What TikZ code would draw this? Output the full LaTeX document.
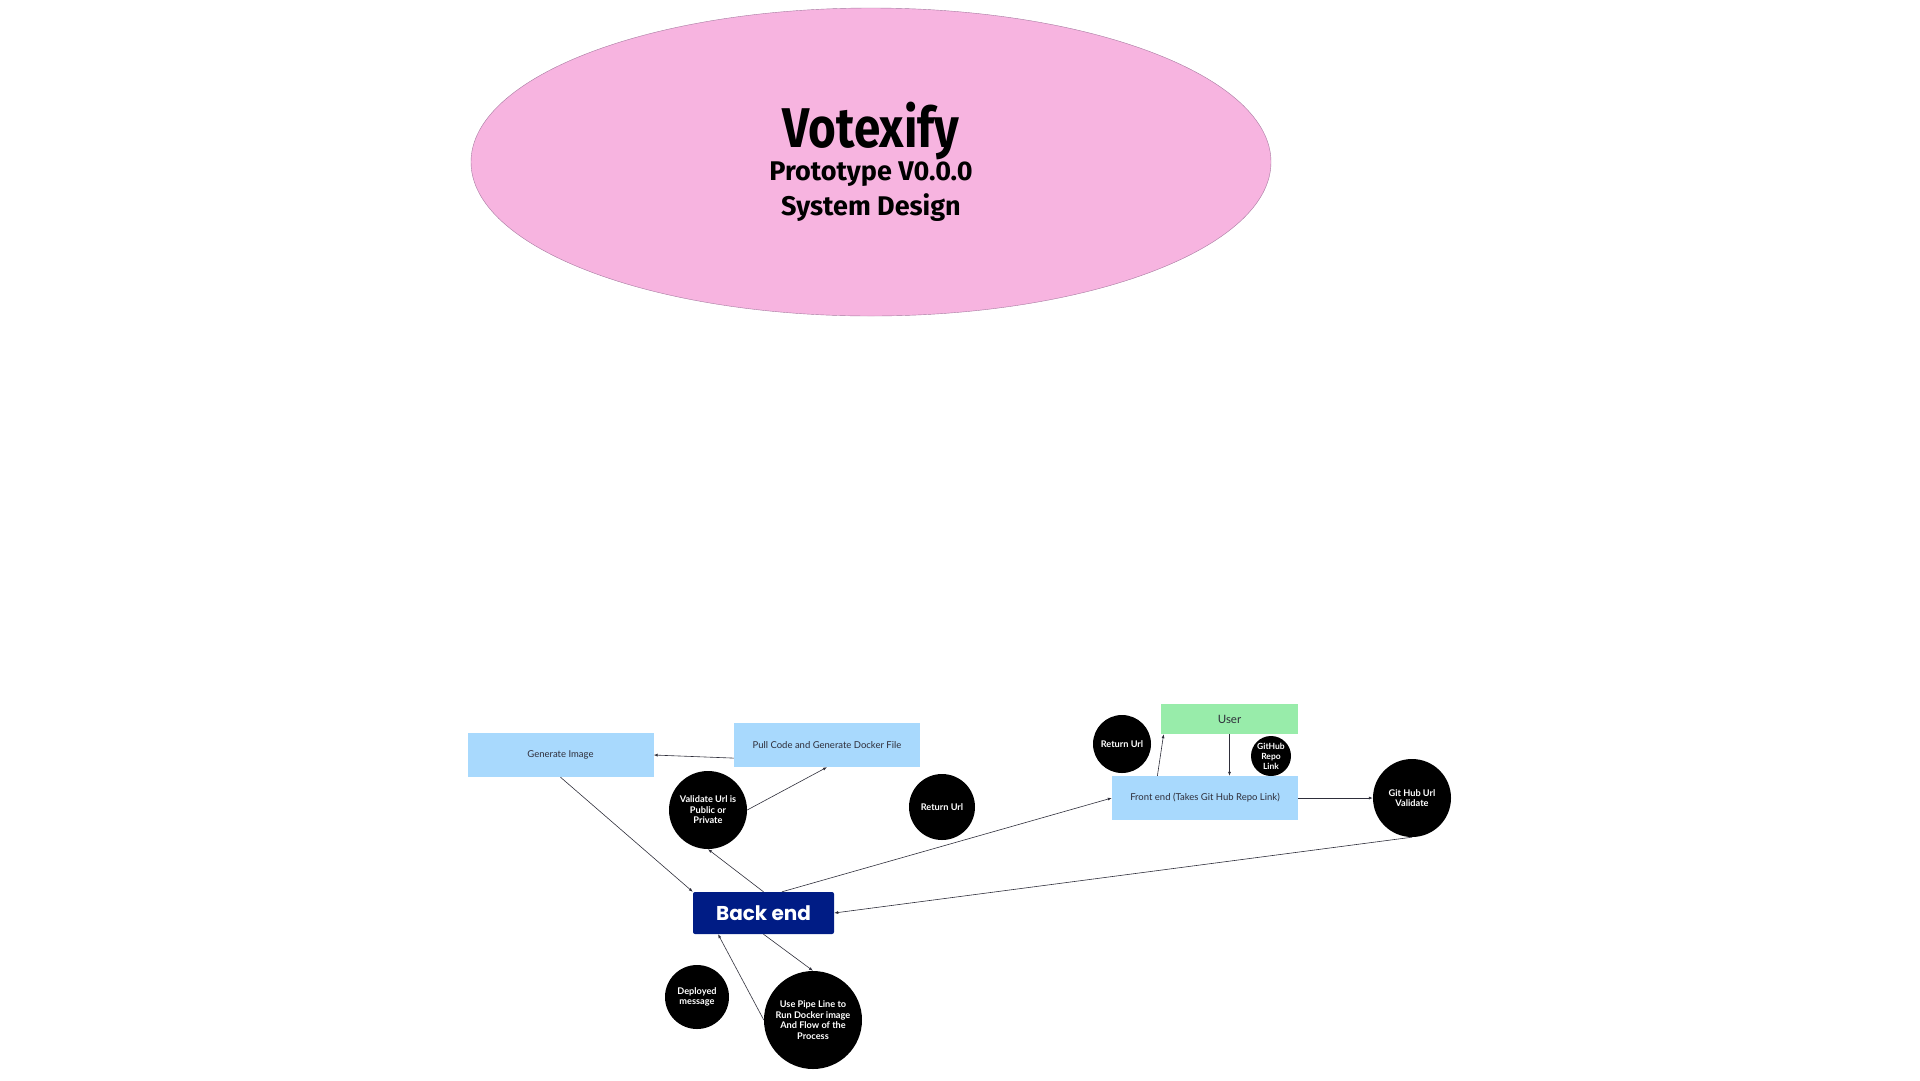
\documentclass[tikz,border=0pt]{standalone}
\usepackage{fontspec}
\setmainfont{Lato}
\newfontfamily\titlefont[FakeStretch=0.85]{Fira Sans}
\newfontfamily\subtitlefont{Fira Sans}
\newfontfamily\backfont{Poppins}
\usepackage{tikz}
\usetikzlibrary{arrows.meta,shapes.geometric}
\definecolor{pinkish}{HTML}{F7B4E0}
\definecolor{pinkline}{HTML}{A77AA0}
\definecolor{skyblue}{HTML}{A8D9FD}
\definecolor{mint}{HTML}{98ECAA}
\definecolor{navy}{HTML}{001C85}
\definecolor{inkgray}{HTML}{2E2E3A}

\begin{document}
\begin{tikzpicture}[x=1pt, y=-1pt,
    stepbox/.style={fill=skyblue, minimum width=186pt, minimum height=44pt, inner sep=0pt, text=inkgray, font=\fontsize{9.5}{11}\selectfont},
    bubble/.style={circle, fill=black, inner sep=0pt, align=center, text=white, font=\bfseries\fontsize{9.2}{10.5}\selectfont},
    arrowline/.style={-{Latex[length=4pt, width=3pt]}, line width=0.6pt, inkgray}]
  \useasboundingbox (0,0) rectangle (1920,1080);

  % title
  \node[ellipse, draw=pinkline, line width=0.4pt, fill=pinkish, minimum width=800pt, minimum height=308pt, align=center] (title) at (871,162)
    {{\titlefont\bfseries\fontsize{56}{60}\selectfont Votexify}\\[1pt]
     {\subtitlefont\bfseries\fontsize{27}{33}\selectfont Prototype V0.0.0}\\[6pt]
     {\subtitlefont\bfseries\fontsize{27}{33}\selectfont System Design}};

  % boxes
  \node[stepbox] (gen) at (560.5,755) {Generate Image};
  \node[stepbox] (pull) at (827,745) {Pull Code and Generate Docker File};
  \node[stepbox] (front) at (1205,798) {Front end (Takes Git Hub Repo Link)};
  \node[stepbox, fill=mint, minimum width=137pt, minimum height=30pt, font=\fontsize{11.5}{13}\selectfont] (user) at (1229.5,719) {User};
  \node[fill=navy, rounded corners=2pt, minimum width=141pt, minimum height=42pt, inner sep=0pt, text=white, font=\backfont\bfseries\fontsize{20}{24}\selectfont] (back) at (763.5,913) {Back end};

  % circles
  \node[bubble, minimum size=78pt] (validate) at (708,810) {Validate Url is\\Public or\\Private};
  \node[bubble, minimum size=66pt] (retmid) at (942,807) {Return Url};
  \node[bubble, minimum size=64pt] (deployed) at (697,997) {Deployed\\message};
  \node[bubble, minimum size=98pt] (pipeline) at (813,1020) {Use Pipe Line to\\Run Docker image\\And Flow of the\\Process};
  \node[bubble, minimum size=58pt] (retright) at (1122,744) {Return Url};
  \node[bubble, minimum size=40pt, font=\bfseries\fontsize{8.5}{10}\selectfont] (repolink) at (1271,756) {GitHub\\Repo\\Link};
  \node[bubble, minimum size=78pt] (urlcheck) at (1412,798) {Git Hub Url\\Validate};

  % connectors
  \foreach \a/\b in {pull.188/gen.east, gen.south/back.north west, validate.east/pull.south, back.north/validate.south, back.49/front.west, urlcheck.south/back.east, front.east/urlcheck.west, front.155/user.193, back.south/pipeline.north, pipeline.west/back.205}{\draw[arrowline] (\a) -- (\b);}
  \draw[arrowline] (user.south) -- (user.south |- front.north);
\end{tikzpicture}
\end{document}
